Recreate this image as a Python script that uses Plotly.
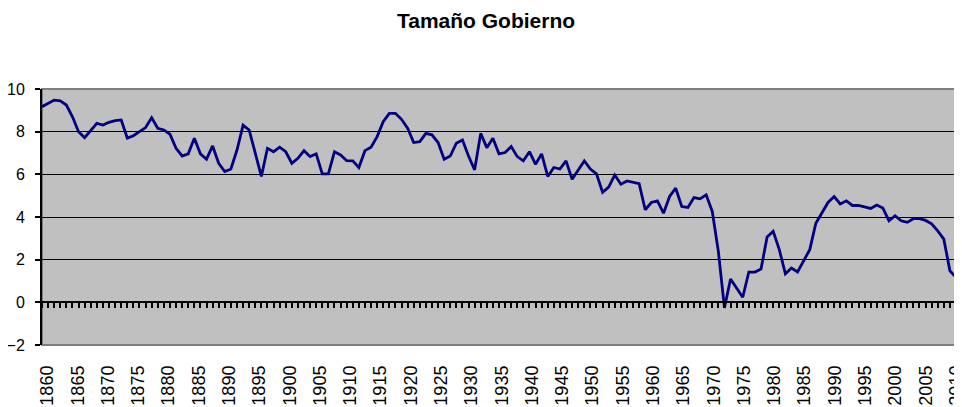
import plotly.graph_objects as go

# Serie anual 1860-2010
years = list(range(1860, 2011))
tamano = [
    9.17, 9.33, 9.48, 9.44, 9.25, 8.70, 8.00, 7.72, 8.08, 8.39,  # 1860-1869
    8.31, 8.44, 8.52, 8.55, 7.70, 7.81, 8.00, 8.19, 8.65, 8.16,  # 1870-1879
    8.08, 7.88, 7.22, 6.86, 6.96, 7.69, 6.96, 6.71, 7.33, 6.52,  # 1880-1889
    6.13, 6.25, 7.14, 8.30, 8.08, 6.99, 5.90, 7.22, 7.06, 7.27,  # 1890-1899
    7.06, 6.52, 6.75, 7.11, 6.83, 6.96, 6.02, 6.02, 7.06, 6.91,  # 1900-1909
    6.64, 6.63, 6.32, 7.11, 7.27, 7.77, 8.47, 8.86, 8.86, 8.58,  # 1910-1919
    8.16, 7.49, 7.53, 7.92, 7.85, 7.49, 6.71, 6.86, 7.46, 7.61,  # 1920-1929
    6.86, 6.21, 7.92, 7.25, 7.69, 6.96, 7.02, 7.30, 6.83, 6.63,  # 1930-1939
    7.06, 6.47, 6.96, 5.90, 6.32, 6.25, 6.63, 5.77, 6.21, 6.63,  # 1940-1949
    6.25, 6.02, 5.16, 5.40, 5.97, 5.54, 5.69, 5.64, 5.56, 4.34,  # 1950-1959
    4.68, 4.76, 4.18, 4.96, 5.35, 4.49, 4.45, 4.91, 4.85, 5.04,  # 1960-1969
    4.26, 2.39, -0.26, 1.09, 0.67, 0.24, 1.42, 1.42, 1.56, 3.06,  # 1970-1979
    3.33, 2.47, 1.34, 1.61, 1.42, 1.92, 2.47, 3.71, 4.18, 4.68,  # 1980-1989
    4.96, 4.61, 4.76, 4.54, 4.54, 4.46, 4.40, 4.56, 4.42, 3.82,  # 1990-1999
    4.06, 3.82, 3.75, 3.92, 3.92, 3.84, 3.68, 3.35, 2.96, 1.48,  # 2000-2009
    1.17,                                                        # 2010
]
label_years = list(range(1860, 2011, 5))
y_ticks = [-2, 0, 2, 4, 6, 8, 10]

font_family = "Liberation Sans, Arial, sans-serif"

# la pagina deja 8px de margen en el body, por eso 954x399
W, H = 954, 399

fig = go.Figure()
# traza invisible que sostiene el eje de etiquetas (abajo)
fig.add_trace(go.Scatter(
    x=years, y=tamano, mode="lines",
    opacity=0, hoverinfo="skip", showlegend=False,
))
# serie real sobre el eje x2 (linea del cero con marcas por año)
fig.add_trace(go.Scatter(
    x=years, y=tamano, mode="lines", xaxis="x2",
    line=dict(color="#000080", width=2.8),
    showlegend=False,
))

fig.update_layout(
    width=W, height=H,
    margin=dict(l=34, r=6, t=81, b=62),
    paper_bgcolor="white",
    plot_bgcolor="#c0c0c0",
    font=dict(family=font_family, color="black"),
    title=dict(
        text="<b>Tamaño Gobierno</b>",
        font=dict(size=21, family=font_family, color="black"),
        x=478 / W, xref="container", xanchor="center",
        y=1 - 13 / H, yref="container", yanchor="middle",
    ),
    xaxis=dict(
        # las etiquetas van un poco desplazadas respecto a los puntos, como en Excel
        range=[1859.09, 2010],
        tickvals=label_years,
        ticktext=[str(y) for y in label_years],
        tickangle=-90,
        tickfont=dict(size=18),
        ticks="",
        ticklabelstandoff=16,
        ticklabeloverflow="allow",
        showgrid=False, zeroline=False, showline=False,
        automargin=False,
    ),
    xaxis2=dict(
        range=[1860, 2010],
        overlaying="x", anchor="free", position=2 / 12,
        showline=True, linecolor="black", linewidth=2,
        ticks="outside", ticklen=5, tickwidth=1.5, tickcolor="black",
        tick0=1860, dtick=1,
        showticklabels=False, showgrid=False, zeroline=False,
    ),
    yaxis=dict(
        range=[-2, 10],
        tickvals=y_ticks,
        tickfont=dict(size=16),
        ticks="outside", ticklen=5, tickwidth=1.5, tickcolor="black",
        ticklabelstandoff=7,
        showline=True, linecolor="black", linewidth=2,
        showgrid=True, gridcolor="black", gridwidth=1.4,
        zeroline=False,
        automargin=False,
    ),
    shapes=[
        dict(type="rect", xref="paper", yref="paper", x0=0, x1=1, y0=0, y1=1,
             line=dict(color="#7f7f7f", width=2), layer="below"),
    ],
)

fig.write_html("out.html")
